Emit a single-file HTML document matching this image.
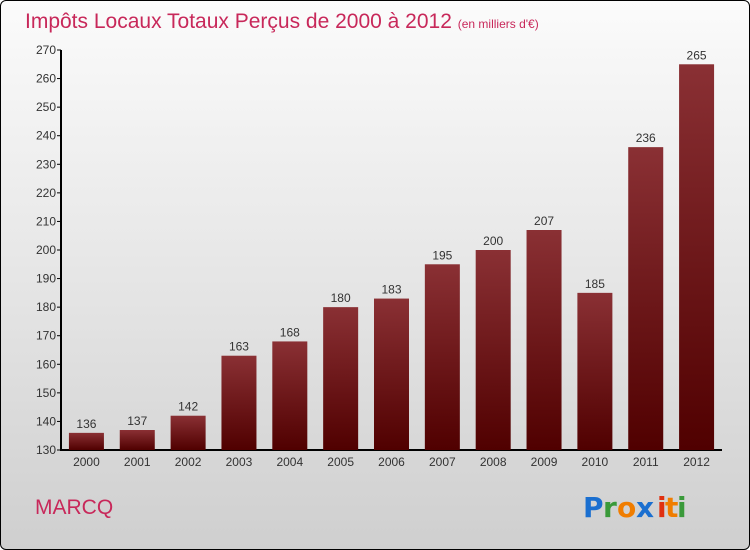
<!DOCTYPE html>
<html><head><meta charset="utf-8"><style>
body{margin:0;width:750px;height:550px;overflow:hidden;font-family:"Liberation Sans",sans-serif}
#wrap{position:absolute;left:0;top:0;width:748px;height:548px;border:1px solid #000;border-radius:6px;background:linear-gradient(#fbfbfb,#e6e6e6 50%,#cfcfcf)}
</style></head><body>
<div id="wrap">
<svg width="750" height="550" style="position:absolute;left:-1px;top:-1px">
<defs><linearGradient id="bg" x1="0" y1="0" x2="0" y2="1"><stop offset="0" stop-color="#8a3034"/><stop offset="1" stop-color="#500000"/></linearGradient></defs>
<text x="25" y="28" font-size="21" fill="#c8285a" font-weight="normal">Impôts Locaux Totaux Perçus de 2000 à 2012 <tspan font-size="12">(en milliers d'€)</tspan></text>
<g id="axes"></g>
<g id="bars"></g>
<text x="35" y="514" font-size="21" fill="#c8285a">MARCQ</text>
<g font-size="28" font-weight="bold" font-family="'DejaVu Sans',sans-serif">
<text x="583" y="517" fill="#1a6fd0">P</text><text x="603" y="517" fill="#3a9a3a">r</text><text x="617" y="517" fill="#f07d00">o</text><text x="636" y="517" fill="#1a6fd0">x</text><text x="657" y="517" fill="#e03010">i</text><text x="665" y="517" fill="#f07d00">t</text><text x="677" y="517" fill="#3a9a3a">i</text>
</g>
</svg></div>
<script>
const years=["2000","2001","2002","2003","2004","2005","2006","2007","2008","2009","2010","2011","2012"];
const values=[136,137,142,163,168,180,183,195,200,207,185,236,265];
const yTicks=[130,140,150,160,170,180,190,200,210,220,230,240,250,260,270];
const NS="http://www.w3.org/2000/svg";
const x0=61,x1=722,yMin=130,yMax=270,yTop=50,yBot=450;
const y=v=>yBot-(v-yMin)/(yMax-yMin)*(yBot-yTop);
const step=(x1-x0)/years.length;
const xc=i=>x0+step*(i+0.5);
function mk(t,a,p){const e=document.createElementNS(NS,t);for(const k in a)e.setAttribute(k,a[k]);p.appendChild(e);return e;}
const ax=document.getElementById('axes'),bs=document.getElementById('bars');
const yl=mk('line',{x1:x0,y1:yTop,x2:x0,y2:yBot,stroke:'#000','stroke-width':2},ax);


const xl=mk('line',{x1:x0-1,y1:yBot,x2:x1,y2:yBot,stroke:'#000','stroke-width':2},ax);


yTicks.forEach(v=>{
 mk('line',{x1:x0-4,y1:y(v),x2:x0,y2:y(v),stroke:'#000'},ax);
 const t=mk('text',{x:x0-5,y:y(v)+4,'font-size':12,'text-anchor':'end',fill:'#333'},ax);t.textContent=v;
 
 
});
years.forEach((yr,i)=>{
 const c=xc(i),w=35;
 const r=mk('rect',{x:c-w/2,y:y(values[i]),width:w,height:yBot-y(values[i]),fill:'url(#bg)'},bs);
 
 
 const l=mk('text',{x:c,y:y(values[i])-5,'font-size':12,'text-anchor':'middle',fill:'#333'},bs);l.textContent=values[i];
 
 
 const t=mk('text',{x:c,y:yBot+16,'font-size':12,'text-anchor':'middle',fill:'#333'},ax);t.textContent=yr;
 
 
});
</script>
</body></html>
